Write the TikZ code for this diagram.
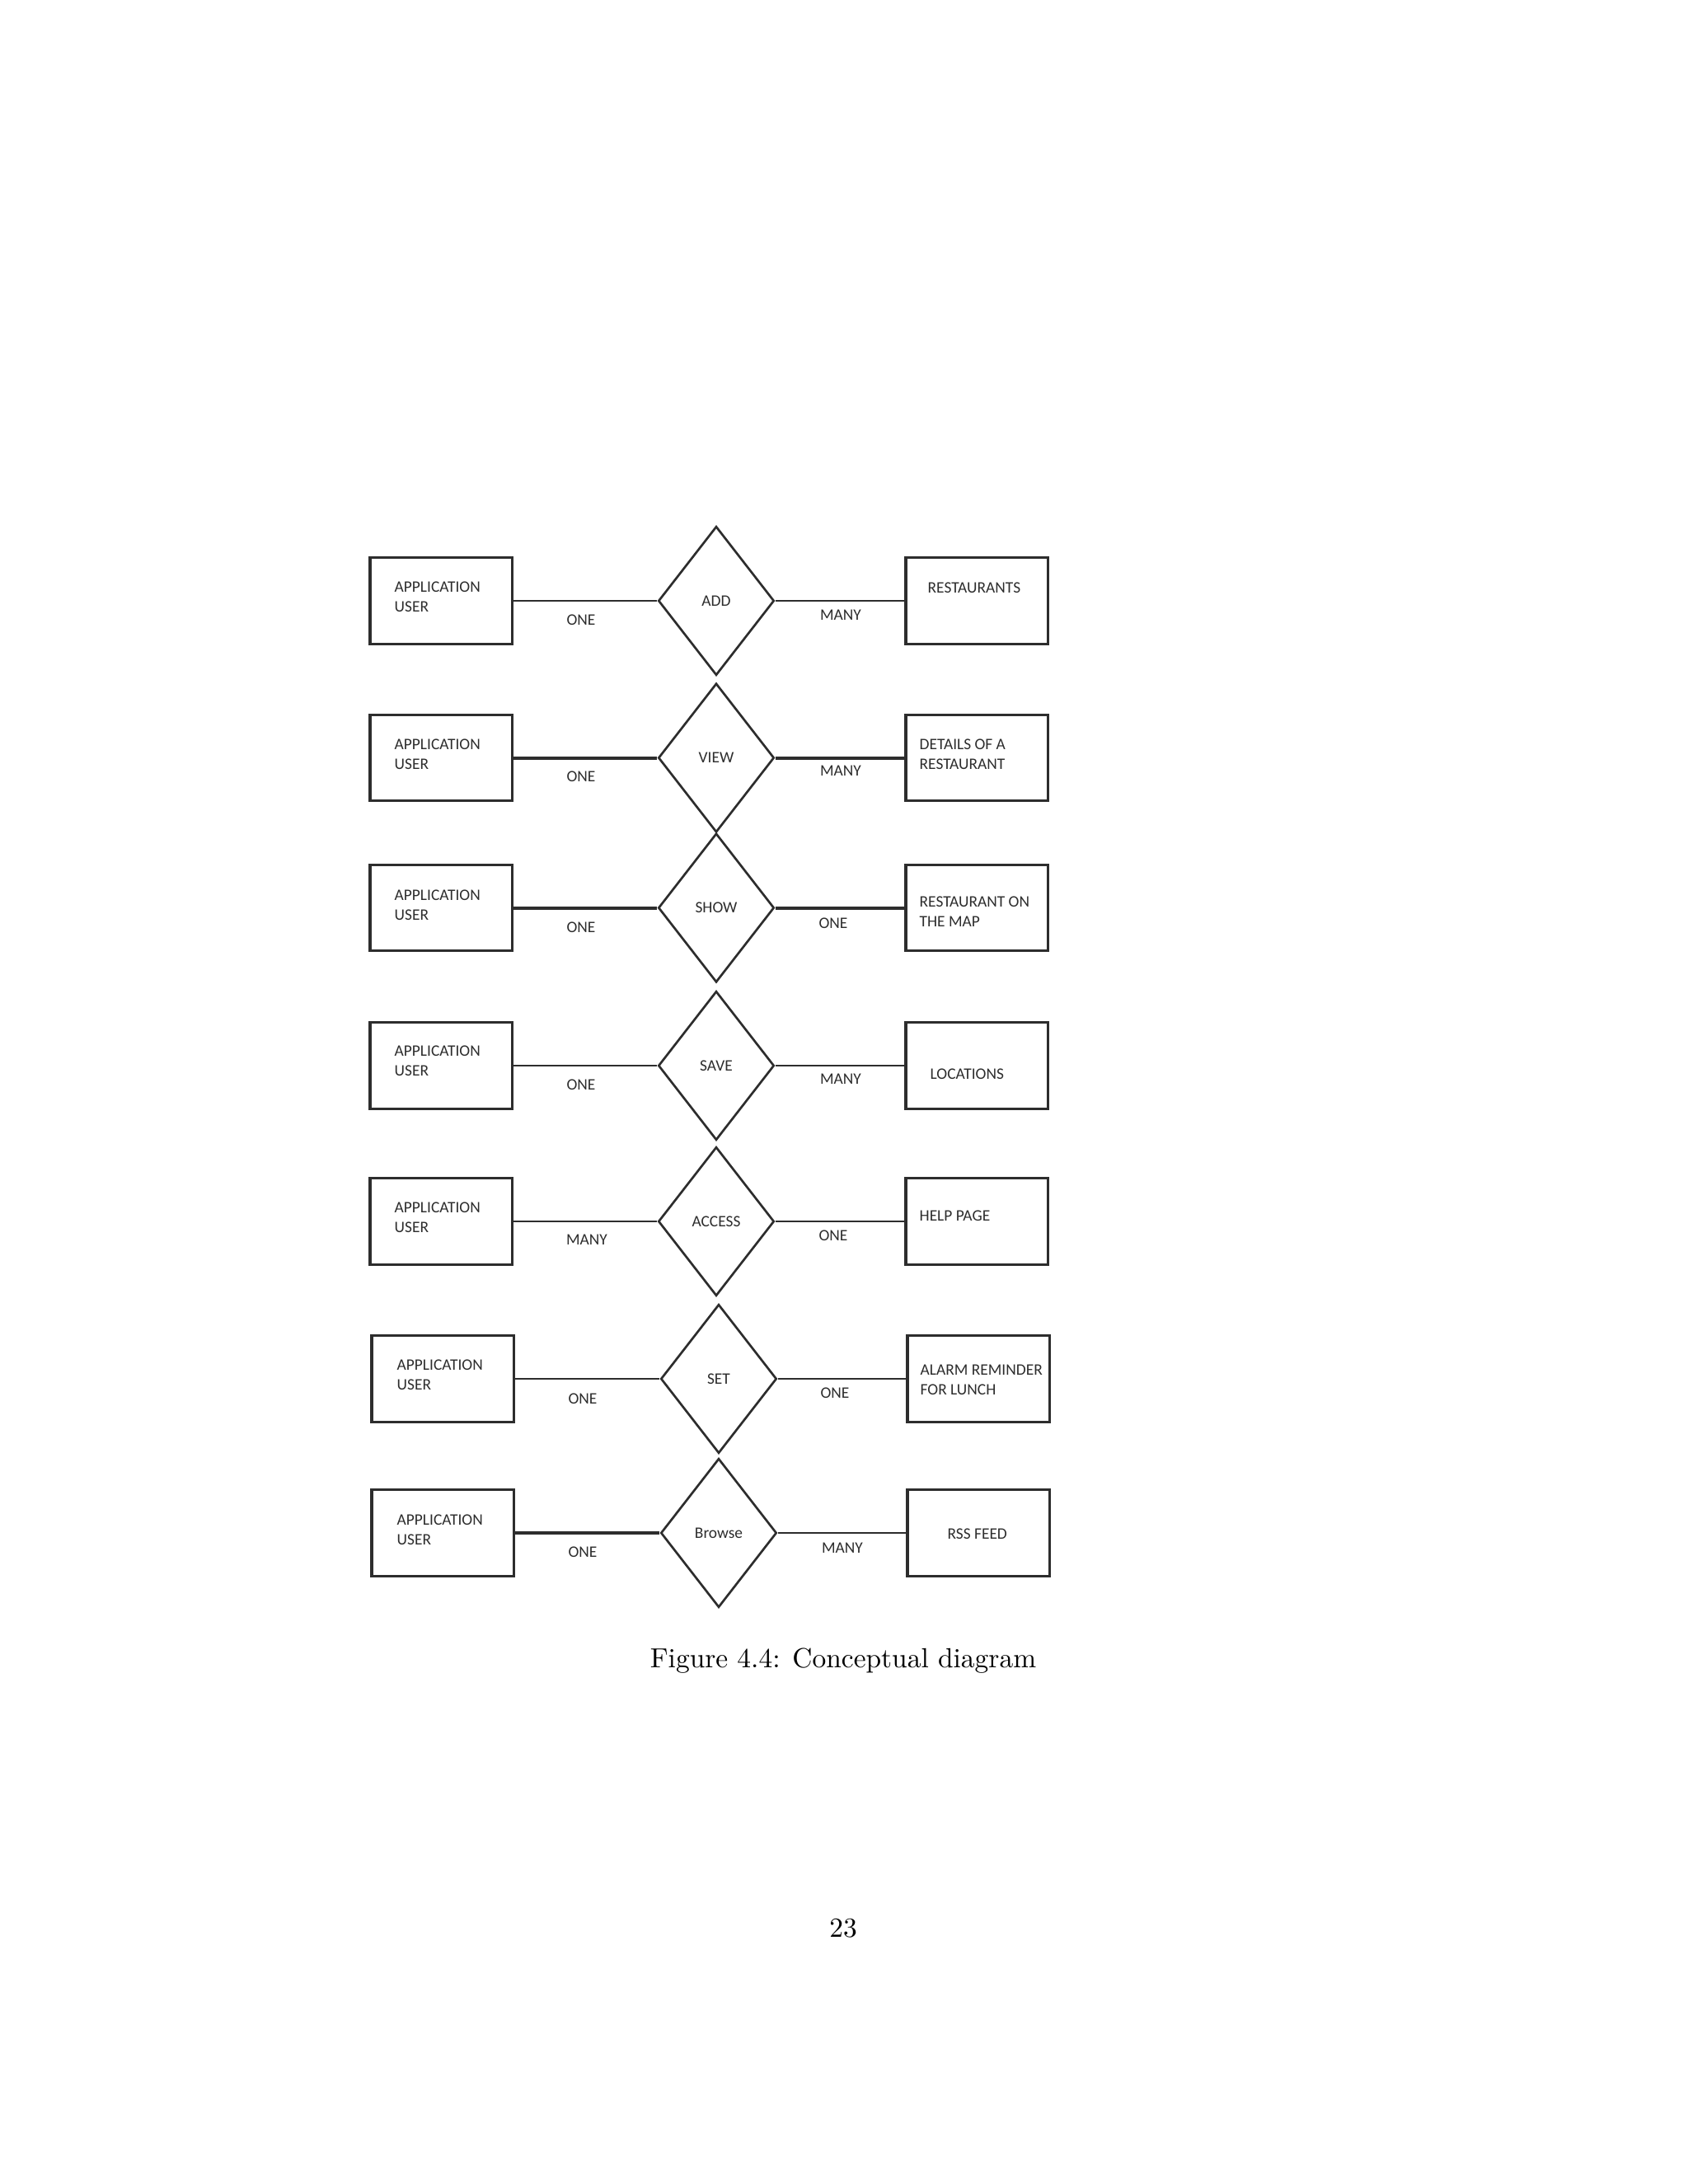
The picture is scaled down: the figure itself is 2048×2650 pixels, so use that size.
\documentclass[tikz,border=0pt]{standalone}
\usepackage{fontspec}
\usepackage{tikz}
\usetikzlibrary{shapes.geometric}
\newfontfamily\carlito{Carlito}
\newcommand{\erfont}{\carlito\fontsize{5.8}{7.1}\selectfont}
\definecolor{ink}{RGB}{45, 45, 45}

\begin{document}
\begin{tikzpicture}[x=0.29883pt, y=-0.29883pt,
    ent/.style={draw=ink, line width=1pt, minimum width=51.5pt, minimum height=31.2pt, inner sep=0pt},
    rel/.style={diamond, draw=ink, line width=0.8pt, minimum width=42pt, minimum height=54pt, inner sep=0pt, font=\erfont, text=ink},
    txt/.style={anchor=west, align=left, inner sep=0pt, font=\erfont, text=ink},
    card/.style={inner sep=0pt, font=\erfont, text=ink},
    lnk/.style={draw=ink, line width=0.5pt},
    lnkb/.style={draw=ink, line width=1.2pt}]
        \useasboundingbox (0,0) rectangle (2048,2650);
        % row 1
        \node[ent] (u1) at (535,729) {};
        \node[rel] (d1) at (869,729) {ADD};
        \node[ent] (r1) at (1185,729) {};
        \node[txt] (u1t) at (478,724) {APPLICATION\\USER};
        \node[txt] (r1t) at (1125,713) {RESTAURANTS};
        \node[card] (c1a) at (705,752) {ONE};
        \node[card] (c1b) at (1020,746) {MANY};
        \draw[lnk] (u1.east) -- (d1.west);
        \draw[lnk] (d1.east) -- (r1.west);
        % row 2
        \node[ent] (u2) at (535,919.5) {};
        \node[rel] (d2) at (869,919.5) {VIEW};
        \node[ent] (r2) at (1185,919.5) {};
        \node[txt] (u2t) at (478,915) {APPLICATION\\USER};
        \node[txt] (r2t) at (1115,915) {DETAILS OF A\\RESTAURANT};
        \node[card] (c2a) at (705,942) {ONE};
        \node[card] (c2b) at (1020,935) {MANY};
        \draw[lnkb] (u2.east) -- (d2.west);
        \draw[lnkb] (d2.east) -- (r2.west);
        % row 3
        \node[ent] (u3) at (535,1101.5) {};
        \node[rel] (d3) at (869,1101.5) {SHOW};
        \node[ent] (r3) at (1185,1101.5) {};
        \node[txt] (u3t) at (478,1098) {APPLICATION\\USER};
        \node[txt] (r3t) at (1115,1106) {RESTAURANT ON\\THE MAP};
        \node[card] (c3a) at (705,1125) {ONE};
        \node[card] (c3b) at (1011,1120) {ONE};
        \draw[lnkb] (u3.east) -- (d3.west);
        \draw[lnkb] (d3.east) -- (r3.west);
        % row 4
        \node[ent] (u4) at (535,1293) {};
        \node[rel] (d4) at (869,1293) {SAVE};
        \node[ent] (r4) at (1185,1293) {};
        \node[txt] (u4t) at (478,1287) {APPLICATION\\USER};
        \node[txt] (r4t) at (1128,1303) {LOCATIONS};
        \node[card] (c4a) at (705,1316) {ONE};
        \node[card] (c4b) at (1020,1309) {MANY};
        \draw[lnk] (u4.east) -- (d4.west);
        \draw[lnk] (d4.east) -- (r4.west);
        % row 5
        \node[ent] (u5) at (535,1482) {};
        \node[rel] (d5) at (869,1482) {ACCESS};
        \node[ent] (r5) at (1185,1482) {};
        \node[txt] (u5t) at (478,1477) {APPLICATION\\USER};
        \node[txt] (r5t) at (1115,1475) {HELP PAGE};
        \node[card] (c5a) at (712,1504) {MANY};
        \node[card] (c5b) at (1011,1499) {ONE};
        \draw[lnk] (u5.east) -- (d5.west);
        \draw[lnk] (d5.east) -- (r5.west);
        % row 6
        \node[ent] (u6) at (537,1673) {};
        \node[rel] (d6) at (872,1673) {SET};
        \node[ent] (r6) at (1187,1673) {};
        \node[txt] (u6t) at (481,1668) {APPLICATION\\USER};
        \node[txt] (r6t) at (1116,1674) {ALARM REMINDER\\FOR LUNCH};
        \node[card] (c6a) at (707,1697) {ONE};
        \node[card] (c6b) at (1013,1690) {ONE};
        \draw[lnk] (u6.east) -- (d6.west);
        \draw[lnk] (d6.east) -- (r6.west);
        % row 7
        \node[ent] (u7) at (537,1860) {};
        \node[rel] (d7) at (872,1860) {Browse};
        \node[ent] (r7) at (1187,1860) {};
        \node[txt] (u7t) at (481,1856) {APPLICATION\\USER};
        \node[txt] (r7t) at (1149,1861) {RSS FEED};
        \node[card] (c7a) at (707,1883) {ONE};
        \node[card] (c7b) at (1022,1878) {MANY};
        \draw[lnkb] (u7.east) -- (d7.west);
        \draw[lnk] (d7.east) -- (r7.west);
        % caption and page number
        \node[font=\fontsize{10}{12}\selectfont] (cap) at (1023,2015) {Figure 4.4: Conceptual diagram};
        \node[font=\fontsize{10}{12}\selectfont] (pno) at (1023,2340) {23};
    \end{tikzpicture}
\end{document}
